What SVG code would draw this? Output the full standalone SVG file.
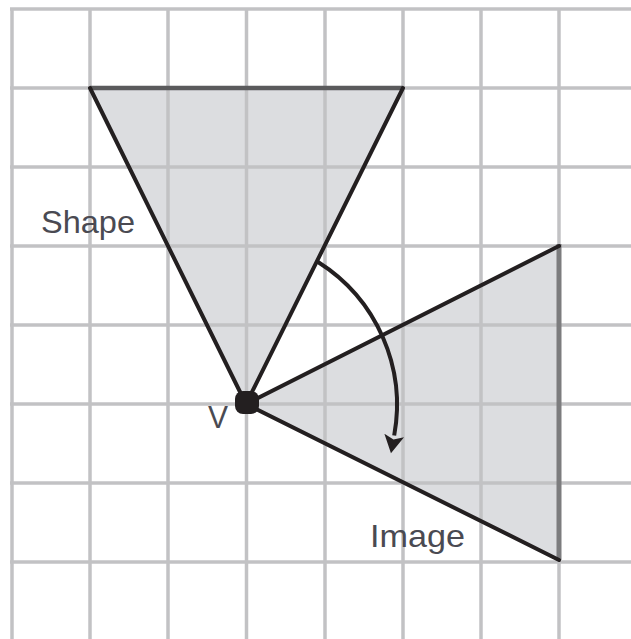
<svg xmlns="http://www.w3.org/2000/svg" width="631" height="639" viewBox="0 0 631 639">
  <style>
    .grid line { stroke: #c2c2c4; stroke-width: 3.5; }
    .fill { fill: #dcdde0; stroke: none; }
    .edge { stroke: #231f20; stroke-width: 4; stroke-linecap: round; fill: none; }
    .label { font-family: "Liberation Sans", Arial, sans-serif; font-size: 32px; fill: #4a4a52; }
  </style>
  <defs>
    <marker id="arrow" markerUnits="userSpaceOnUse" markerWidth="20" markerHeight="22" refX="0" refY="10" orient="auto" viewBox="0 0 20 20">
      <path d="M0,0 L18,10 L0,20 L4,10 Z" fill="#231f20"/>
    </marker>
  </defs>
  <rect x="0" y="0" width="631" height="639" fill="#ffffff"/>

  <g id="fills">
    <polygon class="fill" points="90,88 403,88 246,404"/>
    <polygon class="fill" points="246,404 559,246 559,560"/>
  </g>

  <g id="grid" class="grid">
    <line x1="12" y1="9" x2="12" y2="639"/>
    <line x1="90" y1="9" x2="90" y2="639"/>
    <line x1="168" y1="9" x2="168" y2="639"/>
    <line x1="246.5" y1="9" x2="246.5" y2="639"/>
    <line x1="325" y1="9" x2="325" y2="639"/>
    <line x1="403" y1="9" x2="403" y2="639"/>
    <line x1="481" y1="9" x2="481" y2="639"/>
    <line x1="559" y1="9" x2="559" y2="639"/>
    <line x1="10" y1="9" x2="631" y2="9"/>
    <line x1="10" y1="88" x2="631" y2="88"/>
    <line x1="10" y1="167" x2="631" y2="167"/>
    <line x1="10" y1="246" x2="631" y2="246"/>
    <line x1="10" y1="325" x2="631" y2="325"/>
    <line x1="10" y1="404" x2="631" y2="404"/>
    <line x1="10" y1="483" x2="631" y2="483"/>
    <line x1="10" y1="562" x2="631" y2="562"/>
  </g>

  <g id="shape">
    <line x1="90" y1="88" x2="403" y2="88" stroke="#5a5a5c" stroke-width="4.5"/>
    <line class="edge" x1="90" y1="88" x2="246" y2="404"/>
    <line class="edge" x1="403" y1="88" x2="246" y2="404"/>
    <text class="label" x="41" y="233" textLength="94" lengthAdjust="spacingAndGlyphs">Shape</text>
  </g>

  <g id="image">
    <line x1="559" y1="244" x2="559" y2="560" stroke="#7c7c7e" stroke-width="5"/>
    <line class="edge" x1="246" y1="404" x2="559" y2="246"/>
    <line class="edge" x1="246" y1="404" x2="559" y2="560"/>
    <text class="label" x="370" y="547" textLength="95" lengthAdjust="spacingAndGlyphs">Image</text>
  </g>

  <g id="vertex">
    <rect x="235" y="391" width="24" height="23" rx="8" fill="#231f20"/>
    <text class="label" x="208" y="428" textLength="20" lengthAdjust="spacingAndGlyphs">V</text>
  </g>

  <g id="connectors">
    <path d="M318,262 A169,169 0 0 1 394.2,435.5" fill="none" stroke="#231f20" stroke-width="4" marker-end="url(#arrow)"/>
  </g>
</svg>
